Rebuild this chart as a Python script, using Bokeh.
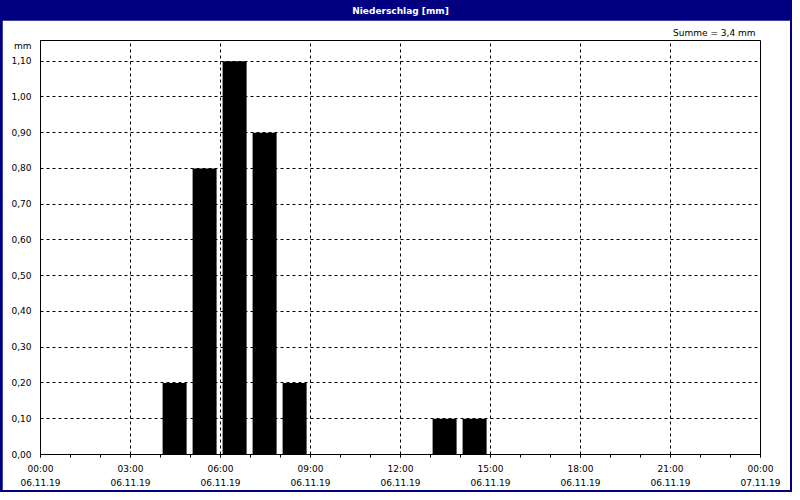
from bokeh.plotting import figure
from bokeh.layouts import column
from bokeh.models import FixedTicker, Range1d
from bokeh.core.properties import value
from bokeh.embed import file_html
from bokeh.resources import INLINE

# ---- data ----
start_hours = [4, 5, 6, 7, 8, 13, 14]
precip_mm = [0.2, 0.8, 1.1, 0.9, 0.2, 0.1, 0.1]
x_tick_hours = [0, 3, 6, 9, 12, 15, 18, 21, 24]
x_tick_labels = ["00:00\n06.11.19", "03:00\n06.11.19", "06:00\n06.11.19",
                 "09:00\n06.11.19", "12:00\n06.11.19", "15:00\n06.11.19",
                 "18:00\n06.11.19", "21:00\n06.11.19", "00:00\n07.11.19"]
y_ticks = [0.0, 0.1, 0.2, 0.3, 0.4, 0.5, 0.6, 0.7, 0.8, 0.9, 1.0, 1.1]
y_tick_labels = ["0,00", "0,10", "0,20", "0,30", "0,40", "0,50",
                 "0,60", "0,70", "0,80", "0,90", "1,00", "1,10"]
title_text = "Niederschlag [mm]"
unit_text = "mm"

FONT = "DejaVu Sans"
FS = "9px"
NAVY = "#000080"
Y_TOP = 1.158
UNIT_TICK = 1.143   # where the unit label sits on the value axis

W, H = 792, 492
BAR_H = 20
PAD = 2
IW = W - 2 * PAD
MAIN_H = H - BAR_H - PAD

# ---- title bar ----
bar = figure(width=IW, height=BAR_H, x_range=Range1d(0, 1), y_range=Range1d(0, 1),
             x_axis_type=None, y_axis_type=None, output_backend="svg",
             toolbar_location=None, title=None, min_border=0)
bar.background_fill_color = NAVY
bar.border_fill_color = NAVY
bar.outline_line_color = None
bar.grid.visible = False
bar.text(x=[0.5], y=[0.5], text=[title_text], text_align="center",
         text_baseline="middle", text_font=value(FONT), text_font_size=FS,
         text_font_style="bold", text_color="white")

# ---- main chart ----
p = figure(width=IW, height=MAIN_H, x_range=Range1d(0, 24), y_range=Range1d(0, Y_TOP),
           output_backend="svg", toolbar_location=None,
           min_border_left=38, min_border_right=30, min_border_top=20,
           min_border_bottom=33)
p.background_fill_color = "white"
p.border_fill_color = "white"
p.outline_line_color = "black"
p.outline_line_width = 1

summe = "Summe = " + ("%.1f" % sum(precip_mm)).replace(".", ",") + " mm"
p.title.text = summe
p.title.align = "right"
p.title.offset = 5
p.title.standoff = 5
p.title.text_font = FONT
p.title.text_font_size = FS
p.title.text_font_style = "normal"
p.title.text_color = "black"

p.vbar(x=[h + 0.47 for h in start_hours], top=precip_mm, width=0.8, bottom=0,
       fill_color="#000000", line_color="#000000", line_width=0)

# x axis
p.xaxis.ticker = FixedTicker(ticks=x_tick_hours, minor_ticks=list(range(25)))
p.xaxis.major_label_overrides = {t: l for t, l in zip(x_tick_hours, x_tick_labels)}
p.xaxis.major_tick_in = 0
p.xaxis.major_tick_out = 3
p.xaxis.minor_tick_in = 0
p.xaxis.minor_tick_out = 3
p.xaxis.major_label_standoff = 6
p.xaxis.major_label_text_line_height = 1.4

# y axis (unit label rides along as a tick label at the top)
yt = y_ticks + [UNIT_TICK]
yl = y_tick_labels + [unit_text]
p.yaxis.ticker = FixedTicker(ticks=yt)
p.yaxis.major_label_overrides = {t: l for t, l in zip(yt, yl)}
p.yaxis.major_tick_line_color = None
p.yaxis.minor_tick_line_color = None
p.yaxis.major_label_standoff = 3

for ax in (p.xaxis[0], p.yaxis[0]):
    ax.axis_line_color = "black"
    ax.major_label_text_font = FONT
    ax.major_label_text_font_size = FS
    ax.major_label_text_color = "black"

# grid
p.xgrid.ticker = FixedTicker(ticks=x_tick_hours)
p.ygrid.ticker = FixedTicker(ticks=y_ticks)
for g in (p.xgrid[0], p.ygrid[0]):
    g.grid_line_color = "black"
    g.grid_line_dash = "3 3"
    g.grid_line_width = 1

layout = column(bar, p, spacing=0,
                styles={"background-color": NAVY,
                        "padding": "0px %dpx %dpx %dpx" % (PAD, PAD, PAD)})

open("out.html", "w").write(file_html(layout, INLINE))
